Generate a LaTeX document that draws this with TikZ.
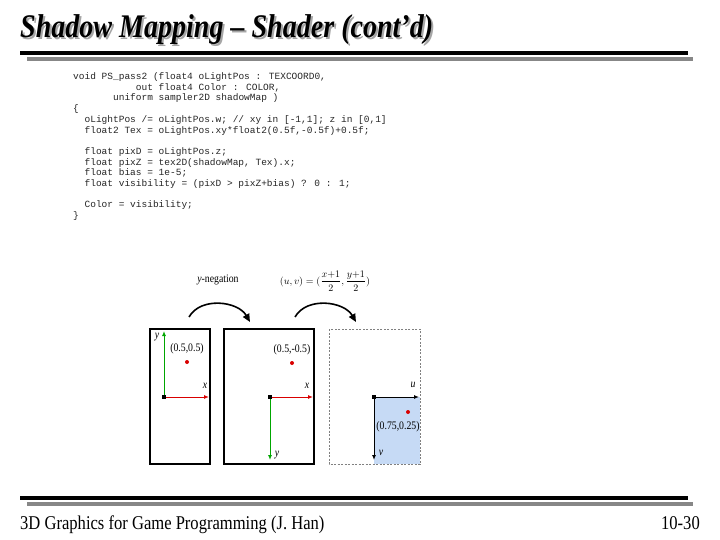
\documentclass[tikz,border=0pt]{standalone}
\usepackage{amsmath}
\usepackage{fontspec}
\setmainfont{Liberation Serif}[FakeStretch=0.85]
\newfontfamily\codefont{Liberation Mono}
\usetikzlibrary{positioning,arrows.meta}
\definecolor{uvfill}{RGB}{198,218,245}
\newcommand{\shadowtext}[1]{\makebox[0pt][l]{\kern2pt\raisebox{-2pt}{\color{black!35}#1}}#1}

\begin{document}
\begin{tikzpicture}[
  x=1pt, y=-1pt,
  title/.style={font=\fontsize{33}{36}\selectfont\bfseries\itshape, anchor=base west, inner sep=0pt},
  rulebar/.style={line width=4pt},
  code/.style={font=\fontsize{9.5}{10.7}\selectfont\codefont, text=black!85, align=left, anchor=north west, inner sep=0pt},
  frame/.style={draw, line width=1.2pt},
  axis/.style={-{Latex[length=5pt,width=4pt]}, line width=1pt},
  lbl/.style={font=\fontsize{11.5}{13}\selectfont, inner sep=0pt},
  dot/.style={circle, fill=red!85!black, inner sep=0pt, minimum size=4pt},
  org/.style={rectangle, fill=black, inner sep=0pt, minimum size=4pt},
  hop/.style={-{Triangle[length=8pt,width=7pt]}, line width=1.6pt},
  foot/.style={font=\fontsize{19.5}{22}\selectfont, anchor=base west, inner sep=0pt}
]
  \useasboundingbox[fill=white] (0,0) rectangle (720,540);

  % title and rules
  \node[title] (title) at (20,38) {\shadowtext{Shadow Mapping -- Shader (cont'd)}};
  \draw[rulebar, black!47] (27,59) -- (693,59);
  \draw[rulebar] (20,53) -- (688,53);

  % shader code
  \node[code] (src) at (73,72.5) {%
    void PS\_pass2 (float4 oLightPos : TEXCOORD0,\\
    \hspace*{6.6em}out float4 Color : COLOR,\\
    \hspace*{4.2em}uniform sampler2D shadowMap )\\
    \{\\
    \hspace*{1.2em}oLightPos /= oLightPos.w; // xy in [-1,1]; z in [0,1]\\
    \hspace*{1.2em}float2 Tex = oLightPos.xy*float2(0.5f,-0.5f)+0.5f;\\[10.7pt]
    \hspace*{1.2em}float pixD = oLightPos.z;\\
    \hspace*{1.2em}float pixZ = tex2D(shadowMap, Tex).x;\\
    \hspace*{1.2em}float bias = 1e-5;\\
    \hspace*{1.2em}float visibility = (pixD > pixZ+bias) ? 0 : 1;\\[10.7pt]
    \hspace*{1.2em}Color = visibility;\\
    \}};

  % frames
  \draw[frame] (150,329) rectangle (210,464);
  \draw[frame] (224,329) rectangle (314,464);
  \fill[uvfill] (374,397) rectangle (420,464);
  \draw[gray, line width=0.9pt, dash pattern=on 2pt off 1.5pt] (329,329) rectangle (420,464);

  % first frame
  \coordinate (o1) at (164,397);
  \coordinate (x1) at (209,397);
  \coordinate (y1) at (164,331);
  \draw[axis, red!85!black] (o1) -- (x1);
  \draw[axis, green!65!black] (o1) -- (y1);
  \node[org] (org1) at (o1) {};
  \node[lbl] (x1lbl) at (205,386) {\textit{x}};
  \node[lbl] (y1lbl) at (157,337) {\textit{y}};
  \node[dot] (p1) at (187,362) {};
  \node[lbl, above=6pt of p1] (p1lbl) {(0.5,0.5)};

  % second frame
  \coordinate (o2) at (270,397);
  \coordinate (x2) at (313,397);
  \coordinate (y2) at (270,460);
  \draw[axis, red!85!black] (o2) -- (x2);
  \draw[axis, green!65!black] (o2) -- (y2);
  \node[org] (org2) at (o2) {};
  \node[lbl] (x2lbl) at (307,386) {\textit{x}};
  \node[lbl] (y2lbl) at (277,455) {\textit{y}};
  \node[dot] (p2) at (292,363) {};
  \node[lbl, above=6pt of p2] (p2lbl) {(0.5,-0.5)};

  % third frame
  \coordinate (o3) at (374,397);
  \coordinate (u3) at (419,397);
  \coordinate (v3) at (374,460);
  \draw[axis] (o3) -- (u3);
  \draw[axis] (o3) -- (v3);
  \node[org] (org3) at (o3) {};
  \node[lbl] (u3lbl) at (413,385) {\textit{u}};
  \node[lbl] (v3lbl) at (381,453) {\textit{v}};
  \node[dot] (p3) at (408,412) {};
  \node[lbl, below=7pt of p3, xshift=-10pt] (p3lbl) {(0.75,0.25)};

  % steps between frames
  \node[lbl] (neg) at (218,280) {\textit{y}-negation};
  \node[lbl, font=\fontsize{10}{12}\selectfont] (remap) at (325,281) {$(u,v)=(\dfrac{x{+}1}{2},\dfrac{y{+}1}{2})$};
  \coordinate (a1) at (189,317);
  \coordinate (b1) at (250,322);
  \coordinate (a2) at (295,317);
  \coordinate (b2) at (356,322);
  \draw[hop] (a1) to[out=60,in=120] (b1);
  \draw[hop] (a2) to[out=60,in=120] (b2);

  % footer
  \draw[rulebar, black!47] (27,504) -- (693,504);
  \draw[rulebar] (20,498) -- (688,498);
  \node[foot] (course) at (20,529) {3D Graphics for Game Programming (J. Han)};
  \node[foot, anchor=base east] (page) at (700,529) {10-30};
\end{tikzpicture}
\end{document}
